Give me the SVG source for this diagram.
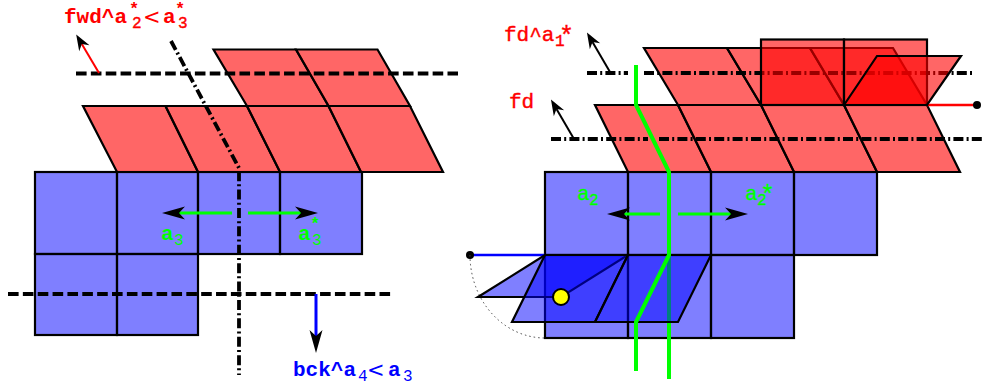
<svg xmlns="http://www.w3.org/2000/svg" width="982" height="388" viewBox="0 0 982 388">
<style>
.b{fill:#00f;fill-opacity:.5;stroke:#000;stroke-width:2.200;stroke-linejoin:miter}
.r{fill:#f00;fill-opacity:.6;stroke:#000;stroke-width:2.200;stroke-linejoin:miter}
.dash{fill:none;stroke:#000;stroke-width:3.800;stroke-dasharray:10.600 4.260}
.dd{fill:none;stroke:#000;stroke-width:3.800;stroke-dasharray:10 3.200 2 3.200}
.g{fill:none;stroke:#0f0;stroke-width:4;stroke-linejoin:round}
.ga{stroke:#0f0;stroke-width:3;fill:none;marker-end:url(#big)}
.t{font-family:"Liberation Mono","Courier New",monospace;font-size:21px;stroke-width:.4px}
.s{font-size:16px;font-weight:normal}
.st{font-size:17px;font-weight:bold}
.lt{font-family:"DejaVu Sans",sans-serif;font-size:21px;font-weight:normal}
.bd{font-weight:bold}
.red{fill:#f00}.blue{fill:#00f}.green{fill:#0f0}
.rs{stroke:#f00}.gs{stroke:#0f0}
</style>
<defs>
<marker id="big" markerUnits="userSpaceOnUse" markerWidth="30" markerHeight="20" refX="6" refY="10" orient="auto" overflow="visible"><path d="M0,3.500L23,10L0,16.500L6,10Z" fill="#000"/></marker>
<marker id="small" markerUnits="userSpaceOnUse" markerWidth="24" markerHeight="20" refX="5" refY="10" orient="auto" overflow="visible"><path d="M0,4L16,10L0,16L5,10Z" fill="#000"/></marker>
</defs>

<g id="left-lattice">
<rect class="b" x="35" y="172" width="82" height="82"/>
<rect class="b" x="117" y="172" width="81" height="82"/>
<rect class="b" x="198" y="172" width="82" height="82"/>
<rect class="b" x="280" y="172" width="82" height="82"/>
<rect class="b" x="35" y="254" width="82" height="81"/>
<rect class="b" x="117" y="254" width="81" height="81"/>
<polygon class="r" points="83,106 165.500,106 198,172 117,172"/>
<polygon class="r" points="165.500,106 247,106 280,172 198,172"/>
<polygon class="r" points="247,106 328.500,106 361,172 280,172"/>
<polygon class="r" points="328.500,106 410,106 443,172 361,172"/>
<polygon class="r" points="213.500,49.500 296,49.500 328.500,106 247,106"/>
<polygon class="r" points="296,49.500 377.500,49.500 410,106 328.500,106"/>
</g>
<g id="left-connectors">
<path class="dash" d="M76,73.500H458"/>
<path class="dash" d="M8,294H391"/>
<path class="dd" d="M171,41L239,168V375"/>
<path d="M99,73L81.800,44" fill="none" stroke="#f00" stroke-width="2" marker-end="url(#small)"/>
<path d="M316,294V336" fill="none" stroke="#00f" stroke-width="3" marker-end="url(#big)"/>
<path class="ga" d="M232,213H179"/>
<path class="ga" d="M248,213H301"/>
</g>
<g id="left-labels">
<text class="t bd red" x="64" y="23">fwd^a</text>
<text class="t red s rs" x="132" y="28">2</text>
<text class="t red st" x="129" y="14">*</text>
<text class="lt red" x="143" y="24">&lt;</text>
<text class="t bd red" x="163" y="23">a</text>
<text class="t red s rs" x="178" y="28">3</text>
<text class="t red st" x="175" y="14">*</text>
<text class="t bd blue" x="293" y="376">bck^a</text>
<text class="t blue s" x="358" y="381">4</text>
<text class="lt blue" x="367" y="377">&lt;</text>
<text class="t bd blue" x="388" y="376">a</text>
<text class="t blue s" x="403" y="381">3</text>
<text class="t bd green" x="161" y="240">a</text>
<text class="t green s" x="174" y="244.500">3</text>
<text class="t bd green" x="298" y="240">a</text>
<text class="t green s" x="312" y="244.500">3</text>
<text class="t green st" x="310" y="229">*</text>
</g>

<g id="right-lattice">
<rect class="b" x="545" y="172" width="83" height="83"/>
<rect class="b" x="628" y="172" width="83" height="83"/>
<rect class="b" x="711" y="172" width="83" height="83"/>
<rect class="b" x="794" y="172" width="83" height="83"/>
<rect class="b" x="545" y="255" width="83" height="83"/>
<rect class="b" x="628" y="255" width="83" height="83"/>
<rect class="b" x="711" y="255" width="83" height="83"/>
<polygon class="r" points="595,105 678,105 711,172 628,172"/>
<polygon class="r" points="678,105 761,105 794,172 711,172"/>
<polygon class="r" points="761,105 844,105 877,172 794,172"/>
<polygon class="r" points="844,105 927,105 960,172 877,172"/>
<polygon class="r" points="644,48 727,48 761,105 678,105"/>
<polygon class="r" points="727,48 810,48 844,105 761,105"/>
<polygon class="r" points="810,48 893,48 927,105 844,105"/>
</g>
<g id="right-connectors-back">
<path class="dd" d="M587,73H628M644,73H972"/>
<path class="dd" d="M551,139H648M659,139H982"/>
<path d="M610,72L592.500,42" fill="none" stroke="#000" stroke-width="2" marker-end="url(#small)"/>
<path d="M574,139L556.500,109" fill="none" stroke="#000" stroke-width="2" marker-end="url(#small)"/>
<path d="M927,105H977" fill="none" stroke="#f00" stroke-width="2.500"/>
<circle cx="977" cy="105" r="4" fill="#000"/>
<path d="M470,255H545" fill="none" stroke="#00f" stroke-width="2.500"/>
<circle cx="470" cy="255" r="4" fill="#000"/>
<path d="M470,255A75,83 0 0 0 545,338" fill="none" stroke="#444" stroke-width="1" stroke-dasharray="1.500 3"/>
</g>
<g id="right-fold-up">
<rect class="r" x="761" y="39.500" width="83" height="65.500"/>
<rect class="r" x="844" y="39.500" width="83" height="65.500"/>
<polygon class="r" points="844,105 877,56 961,56 927,105"/>
</g>
<g id="right-green-back">
<path class="g" d="M669,172V379"/>
</g>
<g id="right-fold-down">
<polygon class="b" points="545,255 628,255 561,297 478,297"/>
<polygon class="b" points="545,255 628,255 595,322 512,322"/>
<polygon class="b" points="628,255 711,255 678,322 595,322"/>
</g>
<g id="right-connectors-front">
<path class="g" d="M636,65V105L669,172V255L636,322V371"/>
<path class="ga" d="M660,214H624"/>
<path class="ga" d="M678,214H731"/>
</g>
<g id="joint"><circle cx="561" cy="297" r="8" fill="#ff0" stroke="#000" stroke-width="2"/></g>
<g id="right-labels">
<text class="t red rs" x="504" y="41">fd^a</text>
<text class="t red s rs" x="555" y="46">1</text>
<text class="t red rs" x="559" y="44" style="font-size:25px">*</text>
<text class="t red rs" x="509" y="108">fd</text>
<text class="t green gs" x="577" y="200">a</text>
<text class="t green s gs" x="589" y="204.500">2</text>
<text class="t green gs" x="745" y="200">a</text>
<text class="t green s gs" x="757" y="204.500">2</text>
<text class="t green gs" x="760" y="203" style="font-size:25px">*</text>
</g>
</svg>
